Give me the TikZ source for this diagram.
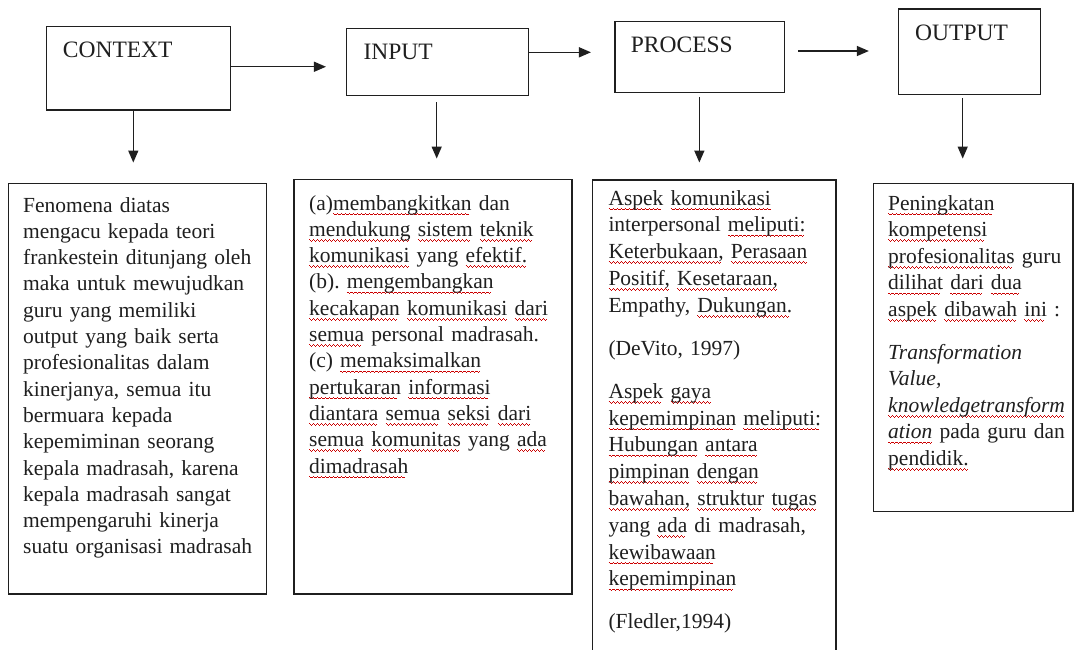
\documentclass[tikz,border=0pt]{standalone}
\usepackage{fontspec}
\setmainfont{Liberation Serif}
\usetikzlibrary{arrows.meta}
\newcommand\wavebit{\raisebox{-3.6pt}{\rule{1pt}{0.9pt}}\raisebox{-4.4pt}{\rule{1pt}{0.9pt}}\raisebox{-5.2pt}{\rule{1pt}{0.9pt}}\raisebox{-4.4pt}{\rule{1pt}{0.9pt}}}
\newsavebox\sqbox
\newcommand\sq[1]{\sbox\sqbox{#1}\leavevmode\rlap{\color{red!80!black}\leaders\hbox{\wavebit}\hskip\wd\sqbox}\usebox\sqbox}
\begin{document}
\frenchspacing
\begin{tikzpicture}[x=1pt,y=-1pt,
  box/.style={draw=black!88, line width=1.5pt, inner sep=0pt, rectangle},
  arr/.style={draw=black!88, line width=1.4pt, -{Triangle[length=12pt,width=10pt]}},
  title/.style={anchor=base west, inner sep=0pt, font=\fontsize{23.5}{28}\selectfont\frenchspacing, text=black!88},
  body/.style={anchor=base west, inner sep=0pt, text width=300pt, align=left,
    font=\fontsize{21.5}{26.3}\selectfont\frenchspacing, text=black!88}
]
\useasboundingbox (0,0) rectangle (1076,649);
\clip (0,0) rectangle (1076,649);
\fill[white] (0,0) rectangle (1076,649);

% top boxes
\node[box, minimum width=184pt, minimum height=83.3pt] (ctx) at (138.7,68.35) {};
\node[box, minimum width=181.6pt, minimum height=67.4pt] (inp) at (437.5,62) {};
\node[box, minimum width=169.7pt, minimum height=71pt] (proc) at (699.85,57.2) {};
\node[box, minimum width=142pt, minimum height=85.3pt] (out) at (969.3,51.65) {};

\node[title] (ctxt) at (62.7,57.3) {CONTEXT};
\node[title] (inpt) at (363.3,59) {INPUT};
\node[title] (proct) at (630.7,52.3) {PROCESS};
\node[title] (outt) at (915,40) {OUTPUT};

% text boxes
\node[box, minimum width=258pt, minimum height=410.7pt] (ctxb) at (137.3,388.65) {};
\node[box, minimum width=278pt, minimum height=414.7pt] (inpb) at (433,386.65) {};
\node[box, minimum width=243.7pt, minimum height=490pt] (procb) at (714.15,425) {};
\node[box, minimum width=199.3pt, minimum height=328.4pt] (outb) at (973.35,347.5) {};

\node[body] (ctxtx) at (23,212) {Fenomena diatas\\
mengacu kepada teori\\
frankestein ditunjang oleh\\
maka untuk mewujudkan\\
guru yang memiliki\\
output yang baik serta\\
profesionalitas dalam\\
kinerjanya, semua itu\\
bermuara kepada\\
kepemiminan seorang\\
kepala madrasah, karena\\
kepala madrasah sangat\\
mempengaruhi kinerja\\
suatu organisasi madrasah};

\node[body] (inptx) at (309,210) {(a)\sq{membangkitkan} dan\\
\sq{mendukung} \sq{sistem} \sq{teknik}\\
\sq{komunikasi} yang \sq{efektif.}\\
(b). \sq{mengembangkan}\\
\sq{kecakapan} \sq{komunikasi} \sq{dari}\\
\sq{semua} personal madrasah.\\
(c) \sq{memaksimalkan}\\
\sq{pertukaran} \sq{informasi}\\
\sq{diantara} \sq{semua} \sq{seksi} \sq{dari}\\
\sq{semua} \sq{komunitas} yang \sq{ada}\\
\sq{dimadrasah}};

\node[body, font=\fontsize{21.5}{26.8}\selectfont\frenchspacing] (proctx) at (608.3,205) {\sq{Aspek} \sq{komunikasi}\\
interpersonal \sq{meliputi:}\\
\sq{Keterbukaan,} \sq{Perasaan}\\
\sq{Positif,} \sq{Kesetaraan,}\\
Empathy, \sq{Dukungan.}\\[16.2pt]
(DeVito, 1997)\\[16.2pt]
\sq{Aspek} \sq{gaya}\\
\sq{kepemimpinan} \sq{meliputi:}\\
\sq{Hubungan} \sq{antara}\\
\sq{pimpinan} \sq{dengan}\\
\sq{bawahan,} \sq{struktur} \sq{tugas}\\
yang \sq{ada} di madrasah,\\
\sq{kewibawaan}\\
\sq{kepemimpinan}\\[16.2pt]
(Fledler,1994)};

\node[body, font=\fontsize{21.5}{26.6}\selectfont\frenchspacing] (outtx) at (888,210) {\sq{Peningkatan}\\
\sq{kompetensi}\\
\sq{profesionalitas} guru\\
\sq{dilihat} \sq{dari} \sq{dua}\\
\sq{aspek} \sq{dibawah} \sq{ini} :\\[16pt]
\textit{Transformation}\\
\textit{Value,}\\
\sq{\textit{knowledgetransform}}\\
\sq{\textit{ation}} pada guru dan\\
\sq{pendidik.}};

% horizontal connectors
\coordinate (c1) at ([yshift=1.6pt]ctx.east);
\draw[arr, shorten >=20pt] (c1) -- (c1 -| inp.west);
\coordinate (c2) at ([yshift=9.7pt]inp.east);
\draw[arr, shorten >=23.3pt] (c2) -- (c2 -| proc.west);
\coordinate (c3) at ([yshift=6.2pt]proc.east);
\draw[arr, shorten <=13pt, shorten >=28.7pt] (c3) -- (c3 -| out.west);

% vertical connectors
\coordinate (d1) at ([xshift=-5.4pt]ctx.south);
\draw[arr, shorten >=20pt] (d1) -- (d1 |- ctxb.north);
\coordinate (d2) at ([xshift=-0.8pt]inp.south);
\draw[arr, shorten <=6pt, shorten >=20pt] (d2) -- (d2 |- inpb.north);
\coordinate (d3) at ([xshift=-0.5pt]proc.south);
\draw[arr, shorten <=3.3pt, shorten >=16.7pt] (d3) -- (d3 |- procb.north);
\coordinate (d4) at ([xshift=-6.6pt]out.south);
\draw[arr, shorten <=3pt, shorten >=24pt] (d4) -- (d4 |- outb.north);
\end{tikzpicture}
\end{document}
